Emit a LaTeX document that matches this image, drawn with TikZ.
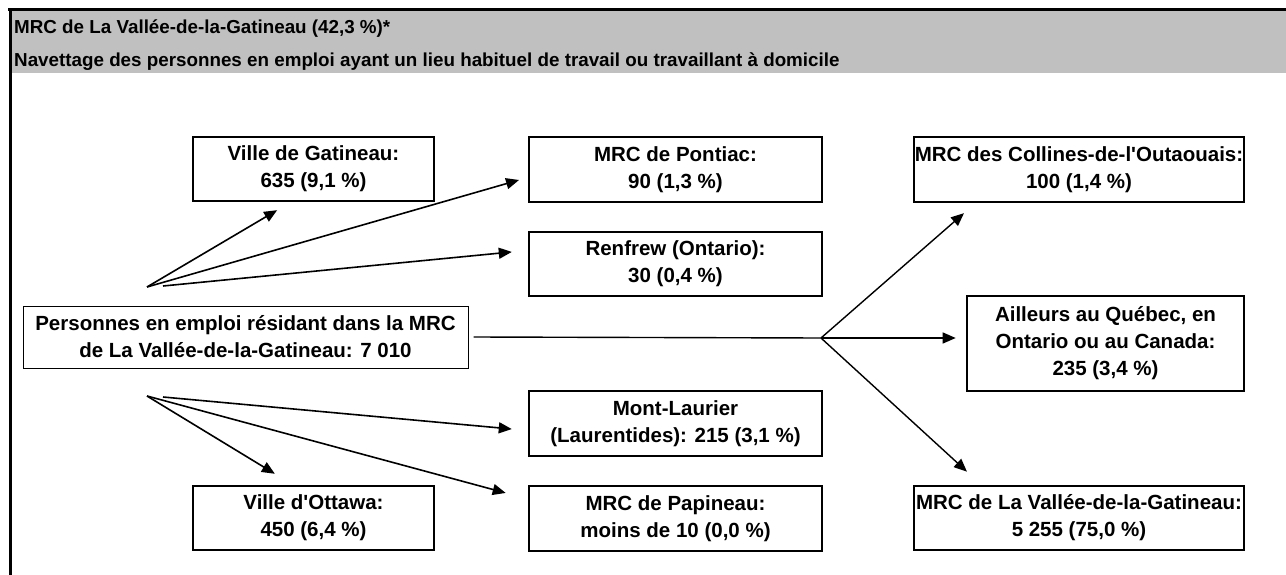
\documentclass[tikz,border=0pt]{standalone}
\usepackage{fontspec}
\setmainfont{Liberation Sans}
\usetikzlibrary{positioning,arrows.meta}

\definecolor{headgray}{RGB}{192,192,192}
\tikzset{
  zonebox/.style={draw, line width=2.6pt, fill=white, align=center, inner sep=0pt,
    font=\fontsize{20.5}{27}\selectfont\bfseries},
  srcbox/.style={zonebox, line width=1pt},
  headtext/.style={anchor=west, inner sep=0pt, font=\fontsize{18.8}{22}\selectfont\bfseries},
  flow/.style={line width=1.6pt, -{Triangle[length=13pt,width=11pt]}},
  forkline/.style={line width=1.4pt}
}

\begin{document}
\begin{tikzpicture}[x=1pt,y=-1pt]
\useasboundingbox (0,0) rectangle (1286,575);

% en-tete gris
\fill[headgray] (10,10) rectangle (1286,73);
\draw[line width=3pt](8,10) -- (1286,10);
\draw[line width=3pt](10,10) -- (10,575);
\node[headtext] (titre) at (14,29) {MRC de La Vallée-de-la-Gatineau (42,3 \%)*};
\node[headtext] (soustitre) at (14,62) {Navettage des personnes en emploi ayant un lieu habituel de travail ou travaillant à domicile};

% boites
\node[srcbox, minimum width=445pt, minimum height=62pt] (pers) at (245.5,337) {Personnes en emploi résidant dans la MRC\\de La Vallée-de-la-Gatineau: 7 010};
\node[zonebox, minimum width=241pt, minimum height=64pt] (gat) at (313.5,169) {Ville de Gatineau:\\635 (9,1 \%)};
\node[zonebox, minimum width=241pt, minimum height=64pt] (ott) at (313.5,518) {Ville d\textquotesingle Ottawa:\\450 (6,4 \%)};
\node[zonebox, minimum width=293pt, minimum height=65pt] (pon) at (675.5,169.5) {MRC de Pontiac:\\90 (1,3 \%)};
\node[zonebox, minimum width=293pt, minimum height=64pt] (ren) at (675.5,264) {Renfrew (Ontario):\\30 (0,4 \%)};
\node[zonebox, minimum width=293pt, minimum height=65pt] (mont) at (675.5,423.5) {Mont-Laurier\\(Laurentides): 215 (3,1 \%)};
\node[zonebox, minimum width=293pt, minimum height=65pt] (pap) at (675.5,518.5) {MRC de Papineau:\\moins de 10 (0,0 \%)};
\node[zonebox, minimum width=330pt, minimum height=65pt] (col) at (1079,169.5) {MRC des Collines-de-l\textquotesingle Outaouais:\\100 (1,4 \%)};
\node[zonebox, minimum width=277pt, minimum height=95pt] (ail) at (1105.5,343.5) {Ailleurs au Québec, en\\Ontario ou au Canada:\\235 (3,4 \%)};
\node[zonebox, minimum width=330pt, minimum height=64pt] (val) at (1079,518) {MRC de La Vallée-de-la-Gatineau:\\5 255 (75,0 \%)};

% points de depart
\coordinate (haut) at (147,287);
\coordinate (haut2) at (163,286);
\coordinate (bas) at (147,396);
\coordinate (bas2) at (163,397);
\coordinate (fourche) at (821,338);

% fleches gauche
\draw[flow, shorten >=15.5pt](haut) -- ([xshift=-23pt]gat.south);
\draw[flow, shorten >=9pt](haut) -- ([yshift=-8pt]pon.west);
\draw[flow, shorten >=16pt](haut2) -- ([yshift=13.6pt]ren.west);
\draw[flow, shorten >=21pt](bas) -- ([xshift=-20.7pt]ott.north);
\draw[flow, shorten >=16pt](bas2) -- ([yshift=-7pt]mont.west);
\draw[flow, shorten >=22.8pt](bas) -- ([yshift=19.6pt]pap.west);

% fleches droite
\draw[forkline]([xshift=5pt]pers.east) -- (fourche);
\draw[flow, line width=1.4pt, shorten >=15pt](fourche) -- ([xshift=-103.7pt]col.south);
\draw[flow, line width=1.4pt, shorten >=10pt](fourche) -- (fourche -| ail.west);
\draw[flow, line width=1.4pt, shorten >=19.3pt](fourche) -- ([xshift=-97.8pt]val.north);
\end{tikzpicture}
\end{document}
